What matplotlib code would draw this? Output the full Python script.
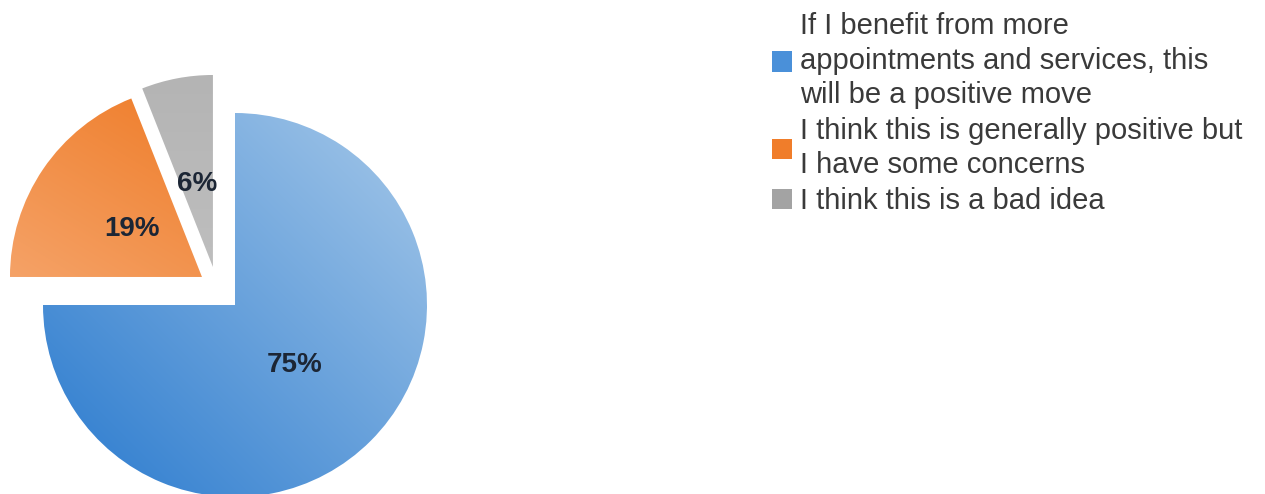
import numpy as np
import matplotlib
matplotlib.use("Agg")
import matplotlib.pyplot as plt
from matplotlib.patches import Patch
from matplotlib.colors import to_rgb

plt.rcParams['font.family'] = ['Liberation Sans', 'DejaVu Sans']

# Survey responses
labels = [
    "If I benefit from more\nappointments and services, this\nwill be a positive move",
    "I think this is generally positive but\nI have some concerns",
    "I think this is a bad idea",
]
shares = [75, 19, 6]

# (dark, light) gradient ends per slice, plus the flat legend swatch colour
grad_colors = [("#3b85d2", "#94bde5"), ("#ee7720", "#f7b07e"), ("#b4b4b4", "#c8c8c8")]
grad_dirs = [(1.0, 1.0), (-0.6, -1.0), (0.0, -1.0)]
swatch_colors = ["#4a90d9", "#f07d2a", "#a3a3a3"]
# pulled-out offset of each slice, in units of the radius (x right, y up)
slice_offsets = [(0.0, 0.0), (-0.172, 0.146), (-0.115, 0.198)]

W, H = 1265, 494
fig = plt.figure(figsize=(W / 100, H / 100), dpi=100)
ax = fig.add_axes([0, 0, 1, 1])

cx, cy, r = 235, H - 305, 192
wedges, texts, autotexts = ax.pie(
    shares, startangle=90, counterclock=False,
    center=(cx, cy), radius=r, autopct="%.0f%%", pctdistance=0.44,
    wedgeprops=dict(linewidth=0, facecolor="none"),
    textprops=dict(fontsize=20, fontweight="bold", color="#1c2635"),
)

# Pull slices out of the pie
for w, at, (ox, oy) in zip(wedges, autotexts, slice_offsets):
    w.set_center((cx + ox * r, cy + oy * r))
    tx, ty = at.get_position()
    at.set_position((tx + ox * r, ty + oy * r))

# Fill each wedge with a linear gradient clipped to its shape
n = 300
for w, (dark, light), (dx, dy) in zip(wedges, grad_colors, grad_dirs):
    wx, wy = w.center
    xs = np.linspace(-1, 1, n)
    X, Y = np.meshgrid(xs, xs)
    d = np.array([dx, dy]) / np.hypot(dx, dy)
    t = np.clip((X * d[0] + Y * d[1]) * 0.5 + 0.5, 0, 1)
    c0, c1 = np.array(to_rgb(dark)), np.array(to_rgb(light))
    img = c0[None, None, :] * (1 - t[..., None]) + c1[None, None, :] * t[..., None]
    im = ax.imshow(img, extent=(wx - r, wx + r, wy - r, wy + r), origin="lower",
                   interpolation="bilinear", zorder=0.5)
    im.set_clip_path(w)

for t in autotexts:
    t.set_zorder(3)

ax.set_xlim(0, W)
ax.set_ylim(0, H)
ax.set_aspect("equal")
ax.axis("off")

handles = [Patch(facecolor=c, edgecolor="none") for c in swatch_colors]
fs = 21
leg = ax.legend(handles, labels, loc="upper left",
                bbox_to_anchor=(772 / W, 1 - 12 / H), bbox_transform=fig.transFigure,
                frameon=False, fontsize=fs, handlelength=0.7, handleheight=0.7,
                handletextpad=0.27, labelspacing=0.26, borderpad=0, borderaxespad=0,
                labelcolor="#3a3a3a")
for t in leg.get_texts():
    t.set_linespacing(1.3)

fig.savefig("out.png", dpi=100)
